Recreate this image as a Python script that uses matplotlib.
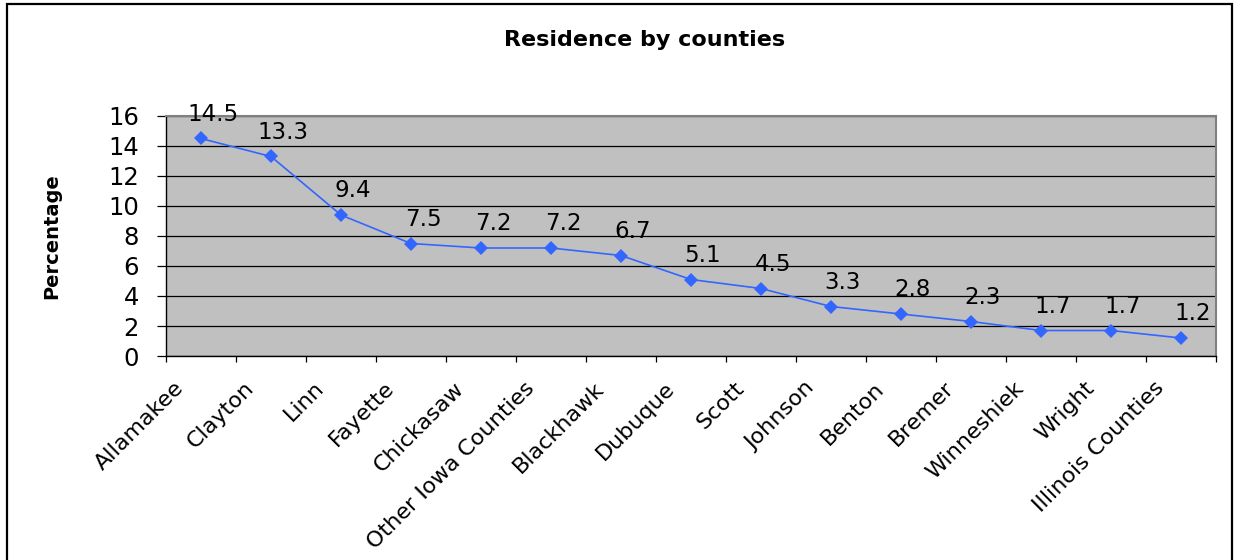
import matplotlib
matplotlib.use("Agg")
import matplotlib.pyplot as plt
from matplotlib.patches import Rectangle
from matplotlib.transforms import blended_transform_factory

plt.rcParams["font.family"] = ["DejaVu Sans"]

counties = ["Allamakee", "Clayton", "Linn", "Fayette", "Chickasaw",
            "Other Iowa Counties", "Blackhawk", "Dubuque", "Scott", "Johnson",
            "Benton", "Bremer", "Winneshiek", "Wright", "Illinois Counties"]
percent = [14.5, 13.3, 9.4, 7.5, 7.2, 7.2, 6.7, 5.1, 4.5, 3.3, 2.8, 2.3, 1.7, 1.7, 1.2]
y_ticks = [0, 2, 4, 6, 8, 10, 12, 14, 16]

W, H = 1234, 560
fig = plt.figure(figsize=(W / 100, H / 100), dpi=100)
ax = fig.add_axes([166 / W, 1 - 356 / H, (1216 - 166) / W, (356 - 116) / H])
ax.set_facecolor("#C0C0C0")

x = list(range(len(counties)))
ax.plot(x, percent, color="#3366FF", linewidth=1.2, marker="D",
        markersize=7.5, markeredgewidth=0, zorder=3)

# value labels above each point
for xi, v in zip(x, percent):
    ax.annotate(f"{v:g}", xy=(xi, v), xytext=(12, 24), textcoords="offset pixels",
                ha="center", va="center", fontsize=16.5, color="black", zorder=4)

ax.set_xlim(-0.5, len(counties) - 0.5)
ax.set_ylim(0, 16)
ax.set_yticks(y_ticks)
ax.set_yticklabels([str(t) for t in y_ticks], fontsize=17.5)
ax.yaxis.grid(True, color="black", linewidth=0.9)
ax.set_axisbelow(True)
ax.tick_params(axis="y", direction="out", length=6.5, width=0.9, pad=13)

# tick marks between categories, labels written separately
ax.set_xticks([i - 0.5 for i in range(len(counties) + 1)])
ax.set_xticklabels([])
ax.tick_params(axis="x", direction="out", length=4.5, width=0.9)

trans = blended_transform_factory(ax.transData, ax.transAxes)
for xi, name in zip(x, counties):
    ax.annotate(name, xy=(xi, 0), xycoords=trans, xytext=(-27, -22),
                textcoords="offset pixels", rotation=45, rotation_mode="anchor",
                ha="right", va="top", fontsize=16)

for side in ("left", "bottom"):
    ax.spines[side].set_color("black")
    ax.spines[side].set_linewidth(1.0)
for side in ("top", "right"):
    ax.spines[side].set_color("#808080")
    ax.spines[side].set_linewidth(1.5)

fig.text(645 / W, 1 - 40 / H, "Residence by counties", ha="center", va="center",
         fontsize=16, fontweight="bold")
fig.text(52 / W, 1 - 236 / H, "Percentage", ha="center", va="center",
         rotation=90, fontsize=14, fontweight="bold")

# chart frame
fig.patches.append(Rectangle((7 / W, -0.05), (1232 - 7) / W, 1.05 - 4 / H,
                             transform=fig.transFigure, fill=False,
                             edgecolor="black", linewidth=1.6))

fig.savefig("out.png", dpi=100)
